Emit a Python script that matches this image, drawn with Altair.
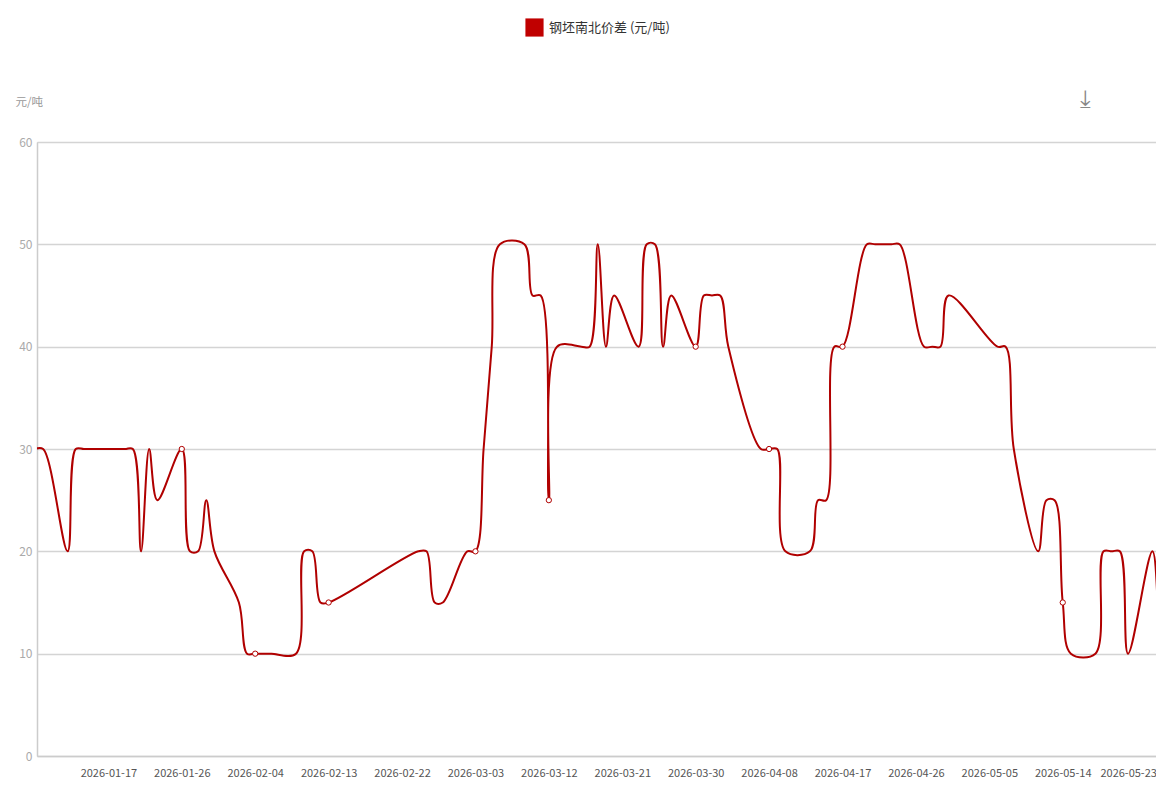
import altair as alt
import pandas as pd

# ---- data ----
dates = [
    "2026-01-08", "2026-01-09", "2026-01-12", "2026-01-13", "2026-01-14", "2026-01-15", "2026-01-16",
    "2026-01-19", "2026-01-20", "2026-01-21", "2026-01-22", "2026-01-23",
    "2026-01-26", "2026-01-27", "2026-01-28", "2026-01-29", "2026-01-30",
    "2026-02-02", "2026-02-03", "2026-02-04", "2026-02-05", "2026-02-06",
    "2026-02-09", "2026-02-10", "2026-02-11", "2026-02-12", "2026-02-13",
    "2026-02-24", "2026-02-25", "2026-02-26", "2026-02-27",
    "2026-03-02", "2026-03-03", "2026-03-04", "2026-03-05", "2026-03-06",
    "2026-03-09", "2026-03-10", "2026-03-11", "2026-03-12", "2026-03-13",
    "2026-03-16", "2026-03-17", "2026-03-18", "2026-03-19", "2026-03-20",
    "2026-03-23", "2026-03-24", "2026-03-25", "2026-03-26", "2026-03-27",
    "2026-03-30", "2026-03-31", "2026-04-01", "2026-04-02", "2026-04-03",
    "2026-04-07", "2026-04-08", "2026-04-09", "2026-04-10",
    "2026-04-13", "2026-04-14", "2026-04-15", "2026-04-16", "2026-04-17",
    "2026-04-20", "2026-04-21", "2026-04-22", "2026-04-23", "2026-04-24",
    "2026-04-27", "2026-04-28", "2026-04-29", "2026-04-30",
    "2026-05-06", "2026-05-07", "2026-05-08",
    "2026-05-11", "2026-05-12", "2026-05-13", "2026-05-14", "2026-05-15",
    "2026-05-18", "2026-05-19", "2026-05-20", "2026-05-21", "2026-05-22",
    "2026-05-25", "2026-05-26", "2026-05-27",
]
values = [
    30, 30, 20, 30, 30, 30, 30,
    30, 30, 20, 30, 25,
    30, 20, 20, 25, 20,
    15, 10, 10, 10, 10,
    10, 20, 20, 15, 15,
    20, 20, 15, 15,
    20, 20, 30, 40, 50,
    50, 45, 45, 25, 40,
    40, 40, 50, 40, 45,
    40, 50, 50, 40, 45,
    40, 45, 45, 45, 40,
    30, 30, 30, 20,
    20, 25, 25, 40, 40,
    50, 50, 50, 50, 50,
    40, 40, 40, 45,
    40, 40, 30,
    20, 25, 25, 15, 10,
    10, 20, 20, 20, 10,
    20, 10, 20,
]
tick_dates = [
    "2026-01-17", "2026-01-26", "2026-02-04", "2026-02-13", "2026-02-22",
    "2026-03-03", "2026-03-12", "2026-03-21", "2026-03-30", "2026-04-08",
    "2026-04-17", "2026-04-26", "2026-05-05", "2026-05-14", "2026-05-23",
]
y_ticks = [0, 10, 20, 30, 40, 50, 60]
series_name = "钢坯南北价差 (元/吨)"
y_unit = "元/吨"
start_date = "2026-01-08"

# ---- build tables ----
t0 = pd.Timestamp(start_date)
df = pd.DataFrame({"date": dates, "value": values})
df["day"] = (pd.to_datetime(df["date"]) - t0).dt.days
df["series"] = series_name
tick_days = [int((pd.Timestamp(d) - t0).days) for d in tick_dates]
marker_df = df[df["day"].isin(tick_days)]
last_tick = tick_days[-1]

FONT = "Noto Sans CJK SC"
LINE_COLOR = "#b00000"
PLOT_W = 1119
PX_PER_DAY = 8.157
x_min = 0.25
x_max = x_min + PLOT_W / PX_PER_DAY

x_enc = alt.X(
    "day:Q",
    scale=alt.Scale(domain=[x_min, x_max], nice=False, zero=False),
    axis=alt.Axis(
        values=tick_days,
        labelExpr="timeFormat(datetime(2026, 0, 8 + datum.value), '%Y-%m-%d')",
        title=None, grid=False, ticks=False,
        domainColor="#cccccc", domainWidth=1.5,
        labelColor="#555555", labelFontSize=11, labelFont=FONT,
        labelPadding=11, labelOverlap=False, labelFlush=False,
        labelOffset=alt.condition(f"datum.value == {last_tick}", alt.value(-8), alt.value(0)),
    ),
)
y_enc = alt.Y(
    "value:Q",
    scale=alt.Scale(domain=[0, 60], nice=False),
    axis=alt.Axis(
        values=y_ticks, title=y_unit, titleAngle=0, titleX=-22, titleY=-40,
        titleAlign="left", titleBaseline="middle", titleColor="#999999",
        titleFontWeight="normal", titleFontSize=11.5, titleFont=FONT,
        gridColor="#d4d4d4", gridWidth=1.5, ticks=False,
        domainColor="#cccccc", domainWidth=1.5,
        labelColor="#aaaaaa", labelFontSize=12, labelFont=FONT, labelPadding=5,
    ),
)

line = alt.Chart(df).mark_line(
    interpolate="catmull-rom", strokeWidth=2, clip=True
).encode(
    x=x_enc,
    y=y_enc,
    color=alt.Color(
        "series:N",
        scale=alt.Scale(range=[LINE_COLOR]),
        legend=alt.Legend(
            title=None, orient="none", legendX=488, legendY=-124,
            symbolType="square", symbolSize=330,
            symbolFillColor="#c00000", symbolStrokeColor="#c00000", symbolStrokeWidth=0,
            labelFontSize=13, labelColor="#333333", labelFont=FONT, labelOffset=5,
            padding=0,
        ),
    ),
)

markers = alt.Chart(marker_df).mark_point(
    shape="circle", filled=True, fill="white", stroke=LINE_COLOR,
    strokeWidth=1, size=28, opacity=1, clip=True,
).encode(x=x_enc, y=y_enc)

icon = alt.Chart(pd.DataFrame({"t": ["⤓"]})).mark_text(
    font="DejaVu Sans", fontSize=24, color="#888888"
).encode(x=alt.value(1048), y=alt.value(-42), text="t:N")

chart = alt.layer(line, markers, icon).properties(
    width=PLOT_W, height=614,
    padding={"left": 29, "top": 134, "right": 0, "bottom": 24},
    autosize=alt.AutoSizeParams(type="none"),
).configure_view(stroke=None).configure(font=FONT)

chart.save("out.html", embed_options={"renderer": "svg", "actions": False})
